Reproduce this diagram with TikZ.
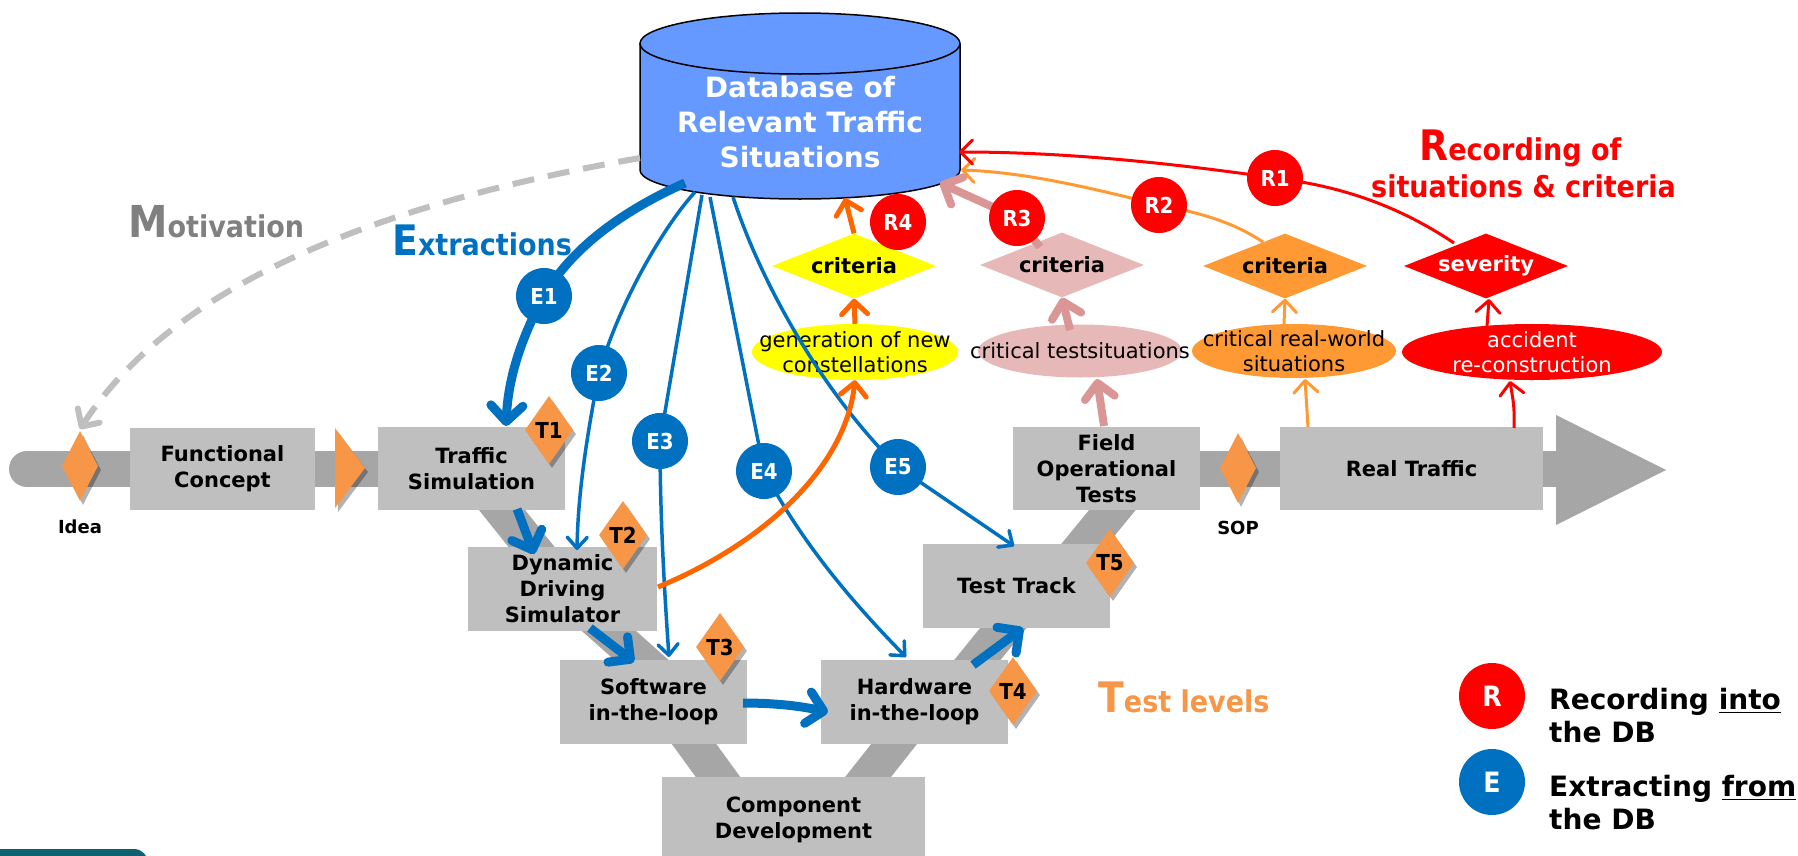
\documentclass[tikz,border=0pt]{standalone}
\usepackage{fontspec}
\setmainfont{DejaVu Sans}
\newfontfamily\cond{DejaVu Sans}[FakeStretch=0.9]
\usetikzlibrary{arrows.meta,shapes.geometric,shadows}
\definecolor{boxgray}{RGB}{191,191,191}
\definecolor{bandgray}{RGB}{166,166,166}
\definecolor{tor}{RGB}{247,150,70}
\definecolor{eblue}{RGB}{0,112,192}
\definecolor{dbblue}{RGB}{102,153,255}
\definecolor{rred}{RGB}{255,0,0}
\definecolor{pinkA}{RGB}{217,150,148}
\definecolor{pinkF}{RGB}{230,185,184}
\definecolor{orgL}{RGB}{255,153,51}
\definecolor{orgD}{RGB}{255,102,0}
\definecolor{yel}{RGB}{255,255,0}
\definecolor{motgray}{RGB}{128,128,128}
\definecolor{dashgray}{RGB}{191,191,191}
\definecolor{tealc}{RGB}{14,97,112}
\newcommand\fsz[2]{\fontsize{#1bp}{#2bp}\selectfont}
\tikzset{
 band/.style={draw=bandgray, line width=36bp},
 box/.style={fill=boxgray, inner sep=0pt, align=center, font=\fsz{21}{26}\bfseries},
 shad/.style={drop shadow={shadow xshift=3bp, shadow yshift=-4bp, opacity=0.3, fill=black}},
 tdia/.style={diamond, aspect=0.7, fill=tor, inner sep=0pt, minimum width=48bp, minimum height=68bp, font=\cond\fsz{22}{22}\bfseries, shad},
 mdia/.style={diamond, aspect=0.5, fill=tor, inner sep=0pt, minimum width=36bp, minimum height=70bp, shad},
 crit/.style={diamond, aspect=2.5, inner sep=0pt, minimum width=164bp, minimum height=65bp, font=\fsz{21}{21}\bfseries},
 ell/.style={ellipse, inner sep=0pt},
 elltext/.style={align=center, font=\fsz{21}{25}},
 ecirc/.style={circle, fill=eblue, text=white, inner sep=0pt, minimum size=56bp, font=\cond\fsz{22}{22}\bfseries},
 rcirc/.style={ecirc, fill=rred},
 ethick/.style={draw=eblue, line width=9bp, -{Straight Barb[length=16bp,width=32bp,round]}},
 ethin/.style={draw=eblue, line width=3.5bp, -{Straight Barb[length=11bp,width=20bp,round]}},
 rthin/.style={line width=3bp, -{Straight Barb[length=12bp,width=24bp,round]}},
 pinkarr/.style={draw=pinkA, line width=8bp, -{Straight Barb[length=15bp,width=30bp,round]}},
 orgarr/.style={draw=orgD, line width=5bp, -{Straight Barb[length=13bp,width=26bp,round]}},
}
\begin{document}
\begin{tikzpicture}[x=1bp,y=-1bp]
\useasboundingbox (0,0) rectangle (1798,856);
% corner fragment
\fill[tealc, rounded corners=14bp] (-30,849) rectangle (148,890);
% backbone
\draw[band, line cap=round] (27,469) -- (470,469);
\draw[band, line cap=round] (1110,469) -- (1560,469);
\fill[bandgray] (1556,415) -- (1666,470) -- (1556,525) -- cycle;
% V bands
\draw[band] (478,480) -- (558,580);
\draw[band] (574,600) -- (681,695);
\draw[band] (673,715) -- (742,810);
\draw[band] (917,715) -- (842,810);
\draw[band] (1026,600) -- (953,690);
\draw[band] (1137,480) -- (1055,580);
% boxes
\node[box, minimum width=185bp, minimum height=82bp] (fc) at (222.5,469) {Functional\\Concept};
\node[box, minimum width=187bp, minimum height=83bp] (ts) at (471.5,468.5) {Traffic\\Simulation};
\node[box, minimum width=189bp, minimum height=84bp] (dds) at (562.5,589) {Dynamic\\Driving\\Simulator};
\node[box, minimum width=187bp, minimum height=84bp] (sw) at (653.5,702) {Software\\in-the-loop};
\node[box, minimum width=187bp, minimum height=84bp] (hw) at (914.5,702) {Hardware\\in-the-loop};
\node[box, minimum width=263bp, minimum height=86bp] (cd) at (793.5,820) {Component\\Development};
\node[box, minimum width=187bp, minimum height=84bp] (tt) at (1016.5,586) {Test Track};
\node[box, minimum width=187bp, minimum height=83bp] (fot) at (1106.5,468.5) {Field\\Operational\\Tests};
\node[box, minimum width=263bp, minimum height=83bp] (rt) at (1411.5,468.5) {Real Traffic};
% milestones
\node[mdia] (idea) at (80,466) {};
\node[mdia] (sop) at (1238,468) {};
\fill[tor, shad] (335,428) -- (365,468) -- (335,508) -- cycle;
\node[font=\fsz{18}{18}\bfseries] (idealbl) at (80,527) {Idea};
\node[font=\fsz{18}{18}\bfseries] (soplbl) at (1238,528) {SOP};
% test level diamonds
\node[tdia] (t1) at (549,430) {T1};
\node[tdia] (t2) at (623,535) {T2};
\node[tdia] (t3) at (720,647) {T3};
\node[tdia] (t4) at (1013,691) {T4};
\node[tdia] (t5) at (1110,563) {T5};
% criteria diamonds and ellipses
\node[crit, fill=yel] (cy) at (854,266) {criteria};
\node[crit, fill=pinkF] (cp) at (1062,265) {criteria};
\node[crit, fill=orgL] (co) at (1285,266) {criteria};
\node[crit, fill=rred, text=white] (sev) at (1486,266) {severity};
\node[ell, fill=yel, minimum width=206bp, minimum height=56bp] (gen) at (855,352) {};
\node[ell, fill=pinkF, minimum width=204bp, minimum height=53bp] (cts) at (1080,351) {};
\node[ell, fill=orgL, minimum width=204bp, minimum height=54bp] (crw) at (1294,351) {};
\node[ell, fill=rred, minimum width=260bp, minimum height=56bp] (acc) at (1532,352) {};
\node[elltext] (gentxt) at (855,352) {generation of new\\constellations};
\node[elltext] (ctstxt) at (1080,351) {critical testsituations};
\node[elltext] (crwtxt) at (1294,351) {critical real-world\\situations};
\node[elltext, text=white] (acctxt) at (1532,352) {accident\\re-construction};
% database
\fill[dbblue] (640,43.5) -- (640,170) arc[start angle=180, end angle=360, x radius=160bp, y radius=29bp] -- (960,43.5) -- cycle;
\draw[line width=1.5bp] (640,43.5) -- (640,170) arc[start angle=180, end angle=360, x radius=160bp, y radius=29bp] -- (960,43.5);
\draw[line width=1.5bp, fill=dbblue] (800,43.5) ellipse[x radius=160bp, y radius=30.5bp];
\node[text=white, align=center, font=\fsz{28}{35}\bfseries] (db) at (800,122) {Database of\\Relevant Traffic\\Situations};
% coordinates
\coordinate (dbE1) at (685,183); \coordinate (dbE2) at (695,192);
\coordinate (dbE3) at (702,195); \coordinate (dbE4) at (710,197);
\coordinate (dbE5) at (733,197); \coordinate (dbR1) at (959,152);
\coordinate (dbR2) at (961,170); \coordinate (dbR3) at (940,183);
\coordinate (dbR4) at (845,198); \coordinate (dbM) at (640,158);
\coordinate (e1) at (544,296); \coordinate (e2) at (599,373);
\coordinate (e3) at (660,441); \coordinate (e4) at (764,471);
\coordinate (e5) at (898,467); \coordinate (r1) at (1275,178);
\coordinate (r2) at (1159,205); \coordinate (r3) at (1017,218);
\coordinate (r4) at (898,222);
\coordinate (tsIn) at (506,426); \coordinate (tsOut) at (517,509);
\coordinate (ddsIn1) at (534,554); \coordinate (ddsIn2) at (577,550);
\coordinate (ddsOut) at (590,628); \coordinate (ddsR) at (658,587);
\coordinate (swIn1) at (634,662); \coordinate (swIn2) at (669,657);
\coordinate (swOut) at (743,703); \coordinate (hwIn1) at (828,712);
\coordinate (hwIn2) at (906,657); \coordinate (hwOut) at (973,665);
\coordinate (ttIn1) at (1023,628); \coordinate (ttIn2) at (1014,546);
\coordinate (fotOut) at (1104,426); \coordinate (ctsBot) at (1097,379);
\coordinate (rtOut1) at (1308,427); \coordinate (crwBot) at (1305,379);
\coordinate (rtOut2) at (1514,428); \coordinate (accBot) at (1510,381);
\coordinate (ctsTop) at (1070,330); \coordinate (crwTop) at (1284,324);
\coordinate (accTop) at (1487,326); \coordinate (sevIn) at (1489,299);
\coordinate (cpTop) at (1040,247); \coordinate (coTop) at (1263,242);
\coordinate (sevTop) at (1454,243); \coordinate (ideaIn) at (80,429);
% motivation
\draw[draw=dashgray, line width=6bp, dash pattern=on 22bp off 14bp, -{Straight Barb[length=13bp,width=26bp,round]}] (dbM) .. controls (400,200) and (180,275) .. (ideaIn);
% extraction arrows
\draw[ethick] (dbE1) .. controls (620,212) and (570,250) .. (e1) .. controls (520,340) and (508,380) .. (tsIn);
\draw[ethick] (tsOut) -- (ddsIn1);
\draw[ethick] (ddsOut) -- (swIn1);
\draw[ethick] (swOut) .. controls (775,703) and (800,706) .. (hwIn1);
\draw[ethick] (hwOut) -- (ttIn1);
\draw[ethin] (dbE2) .. controls (665,225) and (620,300) .. (e2) .. controls (588,430) and (578,490) .. (ddsIn2);
\draw[ethin] (dbE3) -- (e3) .. controls (660,520) and (665,600) .. (swIn2);
\draw[ethin] (dbE4) -- (e4) .. controls (800,540) and (850,600) .. (hwIn2);
\draw[ethin] (dbE5) .. controls (760,280) and (820,390) .. (e5) -- (ttIn2);
% recording arrows
\draw[orgarr] (ddsR) .. controls (760,545) and (845,470) .. (gen.south);
\draw[orgarr] (gen.north) -- (cy.south);
\draw[orgarr] (cy.north) -- (dbR4);
\draw[pinkarr] (fotOut) -- (ctsBot);
\draw[pinkarr] (ctsTop) -- (cp.south);
\draw[pinkarr] (cpTop) -- (r3) -- (dbR3);
\draw[rthin, draw=orgL] (rtOut1) -- (crwBot);
\draw[rthin, draw=orgL] (crwTop) -- (co.south);
\draw[rthin, draw=orgL] (coTop) .. controls (1230,220) and (1195,212) .. (r2) .. controls (1080,185) and (1020,172) .. (dbR2);
\draw[rthin, draw=rred] (rtOut2) .. controls (1515,405) and (1512,395) .. (accBot);
\draw[rthin, draw=rred] (accTop) -- (sevIn);
\draw[rthin, draw=rred] (sevTop) .. controls (1390,200) and (1330,185) .. (r1) .. controls (1150,160) and (1050,152) .. (dbR1);
% circles
\node[ecirc] (E1) at (e1) {E1};
\node[ecirc] (E2) at (e2) {E2};
\node[ecirc] (E3) at (e3) {E3};
\node[ecirc] (E4) at (e4) {E4};
\node[ecirc] (E5) at (e5) {E5};
\node[rcirc] (R1) at (r1) {R1};
\node[rcirc] (R2) at (r2) {R2};
\node[rcirc] (R3) at (r3) {R3};
\node[rcirc] (R4) at (r4) {R4};
% headings
\node[anchor=base west, inner sep=0pt, text=motgray, font=\cond\bfseries] (mot) at (128,237) {\fsz{44}{44}M\fsz{30}{30}otivation};
\node[anchor=base west, inner sep=0pt, text=eblue, font=\cond\bfseries] (ext) at (392,255) {\fsz{42}{42}E\fsz{30}{30}xtractions};
\node[anchor=base west, inner sep=0pt, text=rred, font=\cond\bfseries] (rec1) at (1419,160) {\fsz{42}{42}R\fsz{30}{30}ecording of};
\node[anchor=base west, inner sep=0pt, text=rred, font=\cond\bfseries] (rec2) at (1371,197) {\fsz{30}{30}situations \& criteria};
\node[anchor=base west, inner sep=0pt, text=tor, font=\cond\bfseries] (tl) at (1098,712) {\fsz{42}{42}T\fsz{30}{30}est levels};
% legend
\node[rcirc, minimum size=66bp, font=\cond\fsz{28}{28}\bfseries] (legR) at (1492,696) {R};
\node[ecirc, minimum size=66bp, font=\cond\fsz{28}{28}\bfseries] (legE) at (1492,782) {E};
\node[anchor=west, inner sep=0pt, align=left, font=\fsz{28}{33}\bfseries] (legRt) at (1549,716) {Recording \underline{into}\\the DB};
\node[anchor=west, inner sep=0pt, align=left, font=\fsz{28}{33}\bfseries] (legEt) at (1549,803) {Extracting \underline{from}\\the DB};
\end{tikzpicture}
\end{document}
